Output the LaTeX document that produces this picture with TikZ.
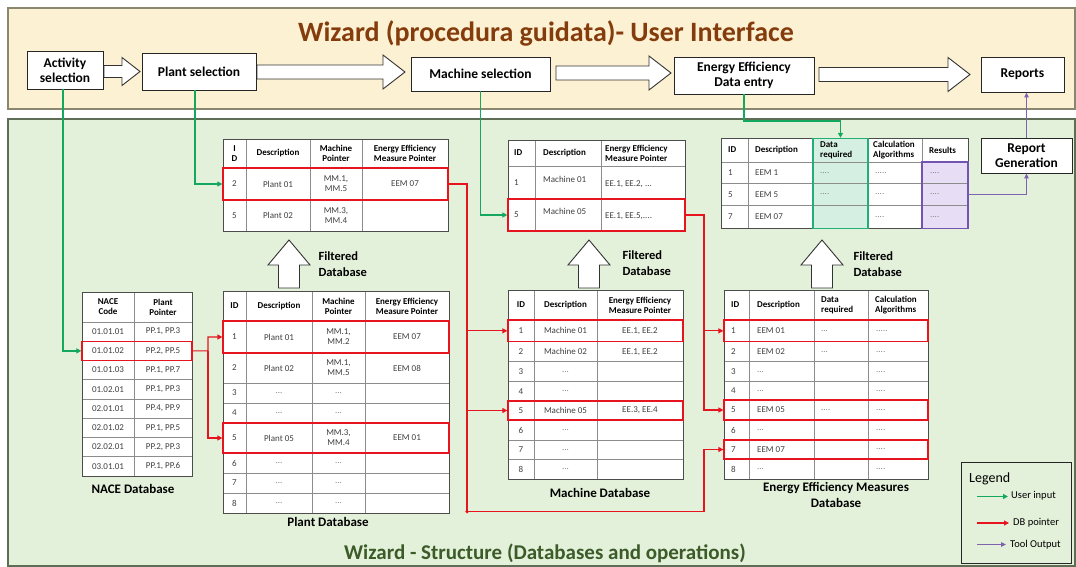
\documentclass[tikz,border=0pt]{standalone}
\usepackage{fontspec}
\setmainfont{Carlito}
\usetikzlibrary{arrows.meta,fit,calc}
\definecolor{barfill}{HTML}{FCF1D2}
\definecolor{barline}{HTML}{8B8670}
\definecolor{grnfill}{HTML}{E3F0DA}
\definecolor{grnline}{HTML}{5E6E55}
\definecolor{titlebrown}{HTML}{843C0C}
\definecolor{titlegreen}{HTML}{3B5B28}
\definecolor{uinput}{HTML}{14A85E}
\definecolor{ptrred}{HTML}{E5141E}
\definecolor{toolp}{HTML}{7E63AE}
\definecolor{drfill}{HTML}{D5F0E3}
\definecolor{drline}{HTML}{22AE74}
\definecolor{resfill}{HTML}{E7DEF5}
\definecolor{resline}{HTML}{7453B3}
\newcommand{\myrarr}[6]{\draw[blk] (#1,#3-#4) -- (#2-#6,#3-#4) -- (#2-#6,#3-#5) -- (#2,#3) -- (#2-#6,#3+#5) -- (#2-#6,#3+#4) -- (#1,#3+#4) -- cycle;}
\newcommand{\myuarr}[6]{\draw[blk] (#1-#4,#3) -- (#1-#4,#2+#6) -- (#1-#5,#2+#6) -- (#1,#2) -- (#1+#5,#2+#6) -- (#1+#4,#2+#6) -- (#1+#4,#3) -- cycle;}
\newcommand{\mytfill}[4]{\fill[white] (#1,#3) rectangle (#2,#4);}
\newcommand{\mytgrid}[6]{%
 \foreach \xx in {#5}{\draw[tblin] (\xx,#3) -- (\xx,#4);}%
 \foreach \yy in {#6}{\draw[tblin] (#1,\yy) -- (#2,\yy);}%
 \draw[tblout] (#1,#3) rectangle (#2,#4);}
\begin{document}
\begin{tikzpicture}[x=1pt,y=-1pt,
  uibox/.style={draw=black!85, fill=white, line width=0.9, font=\fontsize{13.5}{15}\selectfont\bfseries, align=center, inner sep=0},
  blk/.style={draw=black!80, fill=white, line width=0.9, line join=miter},
  tblin/.style={draw=black!45, line width=0.6},
  tblout/.style={draw=black!70, line width=0.8},
  hd/.style={font=\fontsize{9}{10}\selectfont\bfseries, align=center, inner sep=0},
  hdl/.style={hd, align=left, anchor=west},
  cell/.style={font=\fontsize{9}{10}\selectfont, text=black!75, align=center, inner sep=0},
  celll/.style={cell, align=left, anchor=west},
  dt/.style={cell, text=black!50},
  dtl/.style={celll, text=black!50},
  hl/.style={draw=ptrred, line width=1.3, inner sep=0},
  ptr/.style={draw=ptrred, line width=1.1, -{Triangle[length=5pt,width=5pt]}},
  uin/.style={draw=uinput, line width=1.4, -{Triangle[length=5pt,width=5pt]}},
  tout/.style={draw=toolp, line width=1.0, -{Triangle[length=5pt,width=4.5pt]}},
  dblabel/.style={font=\fontsize{13}{16.5}\selectfont\bfseries, align=center},
  filt/.style={font=\fontsize{12.5}{16}\selectfont\bfseries, align=left, anchor=west},
]
\useasboundingbox (0,0) rectangle (1076,567);
\fill[white] (0,0) rectangle (1076,567);
% ---------- backgrounds
\draw[fill=barfill, draw=barline, line width=1.3] (8,8) rectangle (1075,109);
\draw[fill=grnfill, draw=grnline, line width=1.3] (8,119) rectangle (1075,566);
\node[font=\fontsize{28}{30}\selectfont\bfseries, text=titlebrown] (ttop) at (546,33) {Wizard (procedura guidata)- User Interface};
\node[font=\fontsize{21}{24}\selectfont\bfseries, text=titlegreen] (tbot) at (545,553) {Wizard - Structure (Databases and operations)};
% ---------- UI boxes
\node[uibox, minimum width=76, minimum height=38] (act) at (65,70) {Activity\\selection};
\node[uibox, minimum width=114, minimum height=37] (plant) at (199,71.5) {Plant selection};
\node[uibox, minimum width=139, minimum height=34] (mach) at (480.5,74) {Machine selection};
\node[uibox, minimum width=140, minimum height=37] (eed) at (744,75.5) {Energy Efficiency\\Data entry};
\node[uibox, minimum width=83, minimum height=35] (rep) at (1022.5,74.5) {Reports};
\myrarr{104}{140}{71.5}{6}{14}{18}
\myrarr{257}{405}{72}{7}{17}{22}
\myrarr{556}{671}{73}{7}{17}{22}
\myrarr{819}{970}{74.5}{7}{17}{22}
\node[uibox, minimum width=91, minimum height=35] (rgen) at (1026.5,155.5) {Report\\Generation};
% ---------- filtered arrows
\myuarr{289}{240}{288}{10.5}{21}{25}
\myuarr{589}{240}{288}{10.5}{21}{25}
\myuarr{822}{240}{288}{10.5}{21}{25}
\node[filt] (f1) at (315,264) {Filtered\\Database};
\node[filt] (f2) at (619,263) {Filtered\\Database};
\node[filt] (f3) at (850,264) {Filtered\\Database};
% ---------- NACE table
\mytfill{82}{192}{292}{476}
\mytgrid{82}{192}{292}{476}{134}{322,341.25,360.5,379.75,399,418.25,437.5,456.75}
\node[hd] (nace-h1) at (108,307) {NACE\\Code};
\node[hd] (nace-h2) at (163,307) {Plant\\Pointer};
\node[cell] (nace-1-1) at (108,331.6) {01.01.01}; \node[cell] (nace-1-2) at (163,331.6) {PP.1, PP.3};
\node[cell] (nace-2-1) at (108,350.9) {01.01.02}; \node[cell] (nace-2-2) at (163,350.9) {PP.2, PP.5};
\node[cell] (nace-3-1) at (108,370.1) {01.01.03}; \node[cell] (nace-3-2) at (163,370.1) {PP.1, PP.7};
\node[cell] (nace-4-1) at (108,389.4) {01.02.01}; \node[cell] (nace-4-2) at (163,389.4) {PP.1, PP.3};
\node[cell] (nace-5-1) at (108,408.6) {02.01.01}; \node[cell] (nace-5-2) at (163,408.6) {PP.4, PP.9};
\node[cell] (nace-6-1) at (108,427.9) {02.01.02}; \node[cell] (nace-6-2) at (163,427.9) {PP.1, PP.5};
\node[cell] (nace-7-1) at (108,447.1) {02.02.01}; \node[cell] (nace-7-2) at (163,447.1) {PP.2, PP.3};
\node[cell] (nace-8-1) at (108,466.4) {03.01.01}; \node[cell] (nace-8-2) at (163,466.4) {PP.1, PP.6};
\node[hl, fit={(82,341.25) (192,360.5)}] (nace-sel) {};
\node[dblabel] (nacel) at (133,489) {NACE Database};
% ---------- Plant DB
\mytfill{223}{449}{291}{513}
\mytgrid{223}{449}{291}{513}{246,312,365}{321,353,383,403,423,453,473,493}
\node[hd] (pdb-h1) at (234.5,306) {ID};
\node[hd] (pdb-h2) at (279,306) {Description};
\node[hd] (pdb-h3) at (338.5,306) {Machine\\Pointer};
\node[hd] (pdb-h4) at (407,306) {Energy Efficiency\\Measure Pointer};
\node[cell] (pdb-1-1) at (234.5,337) {1}; \node[cell] (pdb-1-2) at (279,337) {Plant 01}; \node[cell] (pdb-1-3) at (338.5,337) {MM.1,\\MM.2}; \node[cell] (pdb-1-4) at (407,337) {EEM 07};
\node[cell] (pdb-2-1) at (234.5,368) {2}; \node[cell] (pdb-2-2) at (279,368) {Plant 02}; \node[cell] (pdb-2-3) at (338.5,368) {MM.1,\\MM.5}; \node[cell] (pdb-2-4) at (407,368) {EEM 08};
\node[cell] (pdb-3-1) at (234.5,393) {3}; \node[dt] (pdb-3-2) at (279,393) {...}; \node[dt] (pdb-3-3) at (338.5,393) {...};
\node[cell] (pdb-4-1) at (234.5,413) {4}; \node[dt] (pdb-4-2) at (279,413) {...}; \node[dt] (pdb-4-3) at (338.5,413) {...};
\node[cell] (pdb-5-1) at (234.5,438) {5}; \node[cell] (pdb-5-2) at (279,438) {Plant 05}; \node[cell] (pdb-5-3) at (338.5,438) {MM.3,\\MM.4}; \node[cell] (pdb-5-4) at (407,438) {EEM 01};
\node[cell] (pdb-6-1) at (234.5,463) {6}; \node[dt] (pdb-6-2) at (279,463) {...}; \node[dt] (pdb-6-3) at (338.5,463) {...};
\node[cell] (pdb-7-1) at (234.5,483) {7}; \node[dt] (pdb-7-2) at (279,483) {...}; \node[dt] (pdb-7-3) at (338.5,483) {...};
\node[cell] (pdb-8-1) at (234.5,503) {8}; \node[dt] (pdb-8-2) at (279,503) {...}; \node[dt] (pdb-8-3) at (338.5,503) {...};
\node[hl, fit={(223,321) (449,353)}] (pdb-sel1) {};
\node[hl, fit={(223,423) (449,453)}] (pdb-sel5) {};
\node[dblabel] (pdbl) at (328,521.7) {Plant Database};
% ---------- Plant filtered
\mytfill{223}{448}{139}{231}
\mytgrid{223}{448}{139}{231}{246,310,362}{168,200}
\node[hd] (pf-h1) at (234.5,153.5) {I\\D};
\node[hd] (pf-h2) at (278,153.5) {Description};
\node[hd] (pf-h3) at (336,153.5) {Machine\\Pointer};
\node[hd] (pf-h4) at (405,153.5) {Energy Efficiency\\Measure Pointer};
\node[cell] (pf-1-1) at (234.5,184) {2}; \node[cell] (pf-1-2) at (278,184) {Plant 01}; \node[cell] (pf-1-3) at (336,184) {MM.1,\\MM.5}; \node[cell] (pf-1-4) at (405,184) {EEM 07};
\node[cell] (pf-2-1) at (234.5,215.5) {5}; \node[cell] (pf-2-2) at (278,215.5) {Plant 02}; \node[cell] (pf-2-3) at (336,215.5) {MM.3,\\MM.4};
\node[hl, fit={(223,168) (448,200)}] (pf-sel) {};
% ---------- Machine filtered
\mytfill{508}{685}{140}{231}
\mytgrid{508}{685}{140}{231}{535,601}{166,199}
\node[hdl] (mf-h1) at (514,153) {ID};
\node[hdl] (mf-h2) at (543,153) {Description};
\node[hdl] (mf-h3) at (605,153) {Energy Efficiency\\Measure Pointer};
\node[celll] (mf-1-1) at (514,182.5) {1}; \node[celll] (mf-1-2) at (543,179) {Machine 01}; \node[celll] (mf-1-3) at (605,184) {EE.1, EE.2, ...};
\node[celll] (mf-2-1) at (514,215) {5}; \node[celll] (mf-2-2) at (543,211) {Machine 05}; \node[celll] (mf-2-3) at (605,216) {EE.1, EE.5,....};
\node[hl, fit={(508,199) (685,231)}] (mf-sel) {};
% ---------- Machine DB
\mytfill{508}{683}{290}{479.3}
\mytgrid{508}{683}{290}{479.3}{534,597}{320,341.7,361.7,381.7,401,420,440,459.3}
\node[hd] (mdb-h1) at (521,305) {ID};
\node[hd] (mdb-h2) at (565.5,305) {Description};
\node[hd] (mdb-h3) at (640,305) {Energy Efficiency\\Measure Pointer};
\node[cell] (mdb-1-1) at (521,330.85) {1}; \node[cell] (mdb-1-2) at (565.5,330.85) {Machine 01}; \node[cell] (mdb-1-3) at (640,330.85) {EE.1, EE.2};
\node[cell] (mdb-2-1) at (521,351.7) {2}; \node[cell] (mdb-2-2) at (565.5,351.7) {Machine 02}; \node[cell] (mdb-2-3) at (640,351.7) {EE.1, EE.2};
\node[cell] (mdb-3-1) at (521,371.7) {3}; \node[dt] (mdb-3-2) at (565.5,371.7) {...};
\node[cell] (mdb-4-1) at (521,391.35) {4}; \node[dt] (mdb-4-2) at (565.5,391.35) {...};
\node[cell] (mdb-5-1) at (521,410.5) {5}; \node[cell] (mdb-5-2) at (565.5,410.5) {Machine 05}; \node[cell] (mdb-5-3) at (640,410.5) {EE.3, EE.4};
\node[cell] (mdb-6-1) at (521,430) {6}; \node[dt] (mdb-6-2) at (565.5,430) {...};
\node[cell] (mdb-7-1) at (521,449.65) {7}; \node[dt] (mdb-7-2) at (565.5,449.65) {...};
\node[cell] (mdb-8-1) at (521,469.3) {8}; \node[dt] (mdb-8-2) at (565.5,469.3) {...};
\node[hl, fit={(508,320) (683,341.7)}] (mdb-sel1) {};
\node[hl, fit={(508,401) (683,420)}] (mdb-sel5) {};
\node[dblabel] (mdbl) at (600,493) {Machine Database};
% ---------- EEM filtered
\mytfill{721}{968}{138.5}{228.5}
\fill[drfill] (813,138.5) rectangle (868,228.5);
\fill[resfill] (922,162) rectangle (968,228.5);
\mytgrid{721}{968}{138.5}{228.5}{748,813,868,922}{162,183.5,205}
\node[draw=drline, line width=1.3, inner sep=0, fit={(813,138.5) (868,228.5)}] (ef-dr) {};
\node[draw=resline, line width=1.3, inner sep=0, fit={(922,162) (968,228.5)}] (ef-res) {};
\node[hdl] (ef-h1) at (728,150) {ID};
\node[hdl] (ef-h2) at (755,150) {Description};
\node[hdl] (ef-h3) at (820,150) {Data\\required};
\node[hdl] (ef-h4) at (873,150) {Calculation\\Algorithms};
\node[hdl] (ef-h5) at (929,150) {Results};
\node[celll] (ef-1-1) at (728,172.75) {1}; \node[celll] (ef-1-2) at (755,172.75) {EEM 1}; \node[dtl] (ef-1-3) at (820,172.75) {....}; \node[dtl] (ef-1-4) at (875,172.75) {.....}; \node[dtl] (ef-1-5) at (930,172.75) {....};
\node[celll] (ef-2-1) at (728,194.25) {5}; \node[celll] (ef-2-2) at (755,194.25) {EEM 5}; \node[dtl] (ef-2-3) at (820,194.25) {....}; \node[dtl] (ef-2-4) at (875,194.25) {....}; \node[dtl] (ef-2-5) at (930,194.25) {....};
\node[celll] (ef-3-1) at (728,216.75) {7}; \node[celll] (ef-3-2) at (755,216.75) {EEM 07}; \node[dtl] (ef-3-4) at (875,216.75) {....}; \node[dtl] (ef-3-5) at (930,216.75) {....};
\coordinate (ef-res2) at (968,194.25);
% ---------- EEM DB
\mytfill{724}{928}{290}{479}
\mytgrid{724}{928}{290}{479}{749,814,868}{320,341.7,361.7,381.7,400,420,440,459}
\node[hdl] (edb-h1) at (731,305) {ID};
\node[hdl] (edb-h2) at (757,305) {Description};
\node[hdl] (edb-h3) at (821,305) {Data\\required};
\node[hdl] (edb-h4) at (875,305) {Calculation\\Algorithms};
\node[celll] (edb-1-1) at (731,330.85) {1}; \node[celll] (edb-1-2) at (757,330.85) {EEM 01}; \node[dtl] (edb-1-3) at (821,330.85) {...}; \node[dtl] (edb-1-4) at (876,330.85) {.....};
\node[celll] (edb-2-1) at (731,351.7) {2}; \node[celll] (edb-2-2) at (757,351.7) {EEM 02}; \node[dtl] (edb-2-3) at (821,351.7) {...}; \node[dtl] (edb-2-4) at (876,351.7) {....};
\node[celll] (edb-3-1) at (731,371.7) {3}; \node[dtl] (edb-3-2) at (757,371.7) {...}; \node[dtl] (edb-3-4) at (876,371.7) {....};
\node[celll] (edb-4-1) at (731,390.85) {4}; \node[dtl] (edb-4-2) at (757,390.85) {...}; \node[dtl] (edb-4-4) at (876,390.85) {....};
\node[celll] (edb-5-1) at (731,410) {5}; \node[celll] (edb-5-2) at (757,410) {EEM 05}; \node[dtl] (edb-5-3) at (821,410) {....}; \node[dtl] (edb-5-4) at (876,410) {....};
\node[celll] (edb-6-1) at (731,430) {6}; \node[dtl] (edb-6-2) at (757,430) {...}; \node[dtl] (edb-6-4) at (876,430) {....};
\node[celll] (edb-7-1) at (731,449.5) {7}; \node[celll] (edb-7-2) at (757,449.5) {EEM 07}; \node[dtl] (edb-7-4) at (876,449.5) {....};
\node[celll] (edb-8-1) at (731,469) {8}; \node[dtl] (edb-8-2) at (757,469) {...}; \node[dtl] (edb-8-4) at (876,469) {....};
\node[hl, fit={(724,320) (928,341.7)}] (edb-sel1) {};
\node[hl, fit={(724,400) (928,420)}] (edb-sel5) {};
\node[hl, fit={(724,440) (928,459)}] (edb-sel7) {};
\node[dblabel] (edbl) at (836,495) {Energy Efficiency Measures\\Database};
% ---------- Legend
\node[draw=black!85, line width=0.9, inner sep=0, fit={(961,462) (1071,563)}] (leg) {};
\node[anchor=west, font=\fontsize{14}{16}\selectfont, inner sep=0] (leg-t) at (969,479) {Legend};
\node[anchor=west, font=\fontsize{10.5}{12}\selectfont, inner sep=0] (leg-1) at (1011,496) {User input};
\node[anchor=west, font=\fontsize{10.5}{12}\selectfont, inner sep=0] (leg-2) at (1013,523) {DB pointer};
\node[anchor=west, font=\fontsize{10.5}{12}\selectfont, inner sep=0] (leg-3) at (1010,545) {Tool Output};
\coordinate (lg1) at (977,496.5);
\coordinate (lg2) at (977,523);
\coordinate (lg3) at (977,544.5);
\draw[uin] (lg1) -- ([xshift=-3pt]lg1 -| leg-1.west);
\draw[ptr] (lg2) -- ([xshift=-4pt]lg2 -| leg-2.west);
\draw[tout] (lg3) -- ([xshift=-4pt]lg3 -| leg-3.west);
% ---------- user input connectors
\draw[uin] ([xshift=-2pt]act.south) |- (nace-sel.west);
\draw[uin] ([xshift=-4pt]plant.south) |- (pf-sel.west);
\draw[uin] (mach.south) |- (mf-sel.west);
\coordinate (eebend) at (744,121);
\draw[uin] (eed.south) -- (eebend) -| (ef-dr.north);
% ---------- DB pointers
\coordinate (nj) at (208,350.9);
\draw[ptr] (nace-sel.east) -- (nj) |- (pdb-sel1.west);
\draw[ptr] (nj) |- (pdb-sel5.west);
\coordinate (pbot) at (467,511.7);
\coordinate (pbot2) at (704,511.7);
\draw[ptr] (pf-sel.east) -| (pbot) -- (pbot2) |- (edb-sel7.west);
\draw[ptr] (pbot |- mdb-sel1.west) -- (mdb-sel1.west);
\draw[ptr] (pbot |- mdb-sel5.west) -- (mdb-sel5.west);
\fill[ptrred] (pbot) circle (1.8);
\coordinate (mj) at (704,215);
\draw[ptr] (mf-sel.east) -- (mj) |- (edb-sel5.west);
\draw[ptr] (mj |- edb-sel1.west) -- (edb-sel1.west);
% ---------- tool output
\draw[tout] (ef-res2) -| (rgen.south);
\draw[tout] (rgen.north) -- (rgen.north |- rep.south);
\end{tikzpicture}
\end{document}
